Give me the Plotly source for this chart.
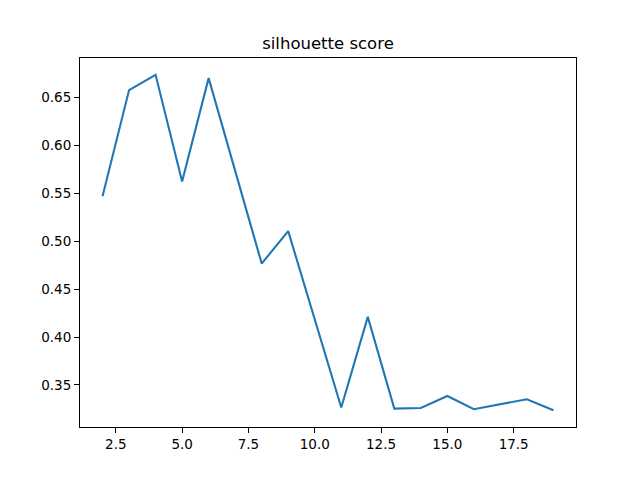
import plotly.graph_objects as go

k_values = list(range(2, 20))
scores = [0.547, 0.658, 0.674, 0.5625, 0.6705, 0.5736, 0.4768, 0.5107, 0.4185,
          0.3264, 0.4211, 0.3253, 0.326, 0.3385, 0.3247, 0.3302, 0.3351, 0.3236]
title_text = "silhouette score"

def padded(vals, frac=0.05):
    lo, hi = min(vals), max(vals)
    m = (hi - lo) * frac
    return [lo - m, hi + m]

# The page body adds an 8px offset, so the figure is shifted up-left by 8px.
off = 8

fig = go.Figure()
fig.add_trace(go.Scatter(x=k_values, y=scores, mode="lines",
                         line=dict(color="#1f77b4", width=2.1)))

axis_common = dict(showline=True, linecolor="black", linewidth=1.1, mirror=True,
                   ticks="outside", ticklen=5, tickwidth=1.1, tickcolor="black",
                   showgrid=False, zeroline=False,
                   tickfont=dict(family="DejaVu Sans", size=13.5, color="black"))

fig.update_layout(
    width=640, height=480,
    margin=dict(l=80 - off, r=64 + off, t=58 - off, b=53 + off),
    paper_bgcolor="white", plot_bgcolor="white",
    showlegend=False,
    title=dict(text=title_text, x=((80 + 576) / 2 - off) / 640, xanchor="center",
               yref="container", y=1 - (50 - off - 1) / 480, yanchor="bottom",
               font=dict(family="DejaVu Sans", size=16.5, color="black")),
    xaxis=dict(range=padded(k_values), tick0=0, dtick=2.5, tickformat=".1f", **axis_common),
    yaxis=dict(range=padded(scores), tick0=0, dtick=0.05, tickformat=".2f", **axis_common),
)

fig.write_html("out.html")
